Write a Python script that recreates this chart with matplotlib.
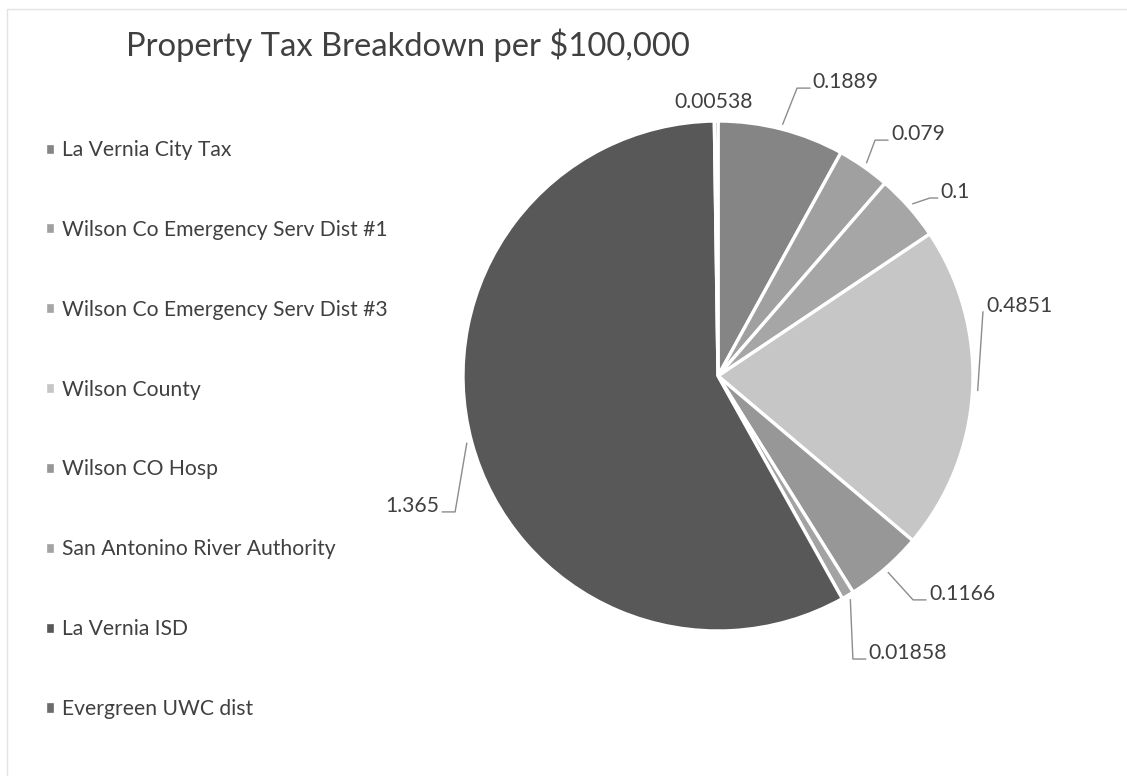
import numpy as np
import matplotlib
matplotlib.use("Agg")
import matplotlib.pyplot as plt
from matplotlib.patches import Rectangle

categories = ["La Vernia City Tax", "Wilson Co Emergency Serv Dist #1",
              "Wilson Co Emergency Serv Dist #3", "Wilson County", "Wilson CO Hosp",
              "San Antonino River Authority", "La Vernia ISD", "Evergreen UWC dist"]
values = [0.1889, 0.079, 0.1, 0.4851, 0.1166, 0.01858, 1.365, 0.00538]
value_labels = ["0.1889", "0.079", "0.1", "0.4851", "0.1166", "0.01858", "1.365", "0.00538"]

colors = ["#858585", "#a0a0a0", "#a6a6a6", "#c6c6c6", "#979797", "#a3a3a3", "#585858", "#6c6c6c"]

# label layout: leader elbow (data units, radius = 1), tail direction, tail length
elbows = [(0.310, 1.129), (0.616, 0.925), (0.831, 0.698), (1.039, 0.251),
          (0.765, -0.878), (0.529, -1.110), (-1.031, -0.533), (-0.016, 1.075)]
sides = [1, 1, 1, 1, 1, 1, -1, 0]
tails = [0.05, 0.05, 0.03, 0.0, 0.05, 0.05, 0.05, 0.0]
anchor_override = {6: 195.0}

plt.rcParams['font.family'] = ['Lato', 'DejaVu Sans']
txt_color = "#404040"
fs = 15.2

fig = plt.figure(figsize=(11.27, 7.76), dpi=100)
fig.patch.set_facecolor("white")
fig.patches.append(Rectangle((0.006, -0.01), 1.2, 0.999, transform=fig.transFigure,
                             fill=False, edgecolor="#e2e2e2", linewidth=1.0))

ax = fig.add_axes([0, 0, 1, 1])
scale = 255.0
cx, cy = 718.0, 376.0

wedges, _ = ax.pie(values, colors=colors, startangle=90, counterclock=False,
                   radius=1.0, center=(0, 0), frame=False,
                   wedgeprops=dict(edgecolor="white", linewidth=2.4))
ax.set_xlim(-cx / scale, (1127 - cx) / scale)
ax.set_ylim(-(776 - cy) / scale, cy / scale)
ax.set_aspect("equal")
ax.axis("off")

for i, w in enumerate(wedges):
    ex, ey = elbows[i]
    if sides[i] == 0:
        ax.text(ex, ey, value_labels[i], ha="center", va="center",
                fontsize=fs, color=txt_color)
        continue
    ang = anchor_override.get(i, (w.theta1 + w.theta2) / 2)
    ax_pt = 1.02 * np.cos(np.radians(ang)), 1.02 * np.sin(np.radians(ang))
    d = sides[i]
    tx = ex + d * tails[i]
    ax.plot([ax_pt[0], ex, tx], [ax_pt[1], ey, ey], color="#8c8c8c", lw=1.0)
    ax.text(tx + d * 0.012, ey + 0.025, value_labels[i],
            ha="left" if d > 0 else "right", va="center",
            fontsize=fs, color=txt_color)

fig.text(0.112, 0.942, "Property Tax Breakdown per $100,000", fontsize=23.6,
         color=txt_color, ha="left", va="center")

leg = fig.legend(wedges, categories, loc="upper left", bbox_to_anchor=(0.023, 0.844),
                 frameon=False, fontsize=fs, handlelength=0.5, handleheight=0.5,
                 handletextpad=0.3, labelspacing=2.835, labelcolor=txt_color)

fig.savefig("out.png", dpi=100, facecolor="white")
